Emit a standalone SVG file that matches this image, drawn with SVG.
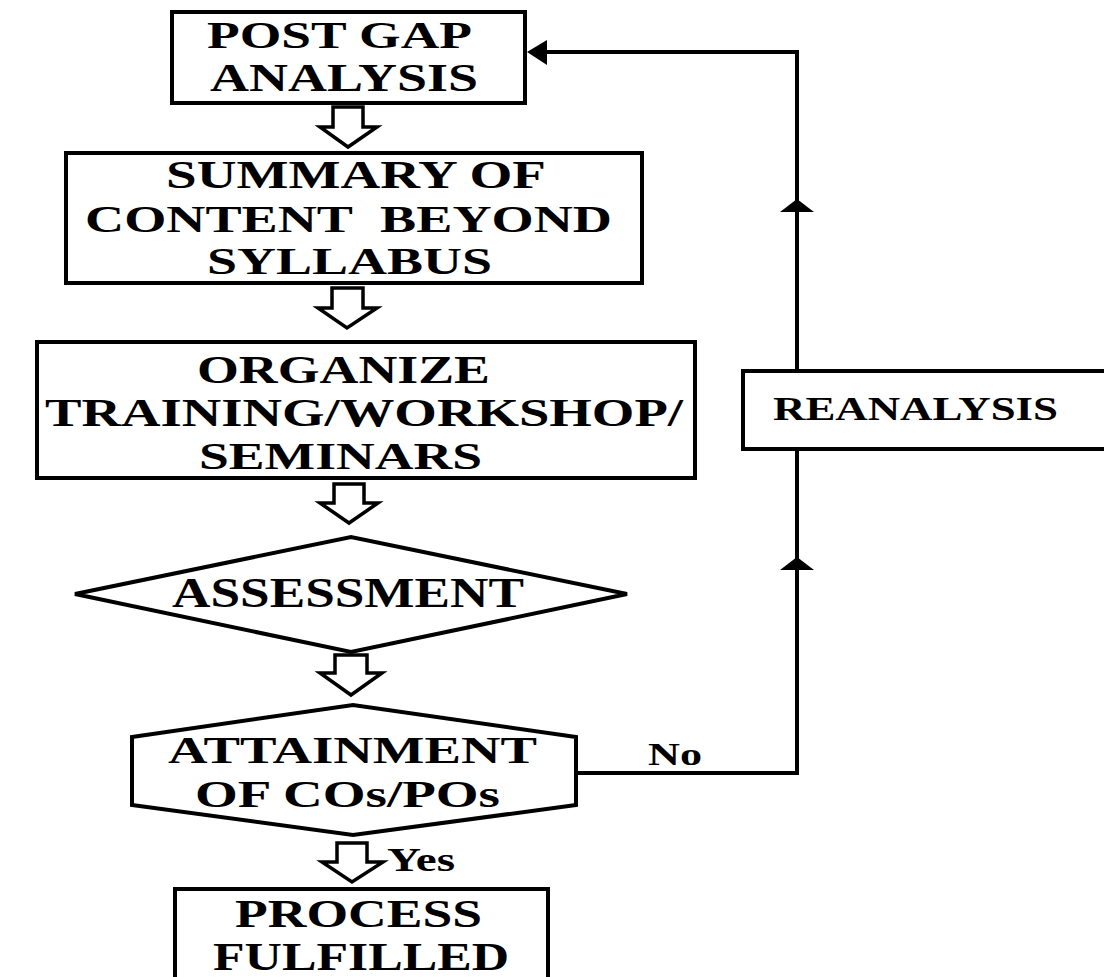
<svg xmlns="http://www.w3.org/2000/svg" width="1104" height="977" viewBox="0 0 1104 977">
<style>
.box{fill:#fff;stroke:#000;stroke-width:4}
.t{font-family:"Liberation Serif","Times New Roman",serif;font-weight:bold;fill:#000}
.harrow{fill:#fff;stroke:#000;stroke-width:3.5;stroke-linejoin:miter}
.conn{fill:none;stroke:#000;stroke-width:4}
.head{fill:#000}
</style>
<rect width="1104" height="977" fill="#fff"/>
<g id="connectors">
<polyline class="conn" points="576,773 797,773 797,52 540,52"/>
<polygon class="head" points="527,52 547,40 547,65"/>
<polygon class="head" points="797,199 780,212 814,212"/>
<polygon class="head" points="797,557 780,570 814,570"/>
<polygon class="harrow" points="333,107 363,107 363,127 377,127 348,147 320,127 333,127"/>
<polygon class="harrow" points="332,288 363,288 363,308 377,308 347,328 318,308 332,308"/>
<polygon class="harrow" points="334,484 364,484 364,503 378,503 349,523 320,503 334,503"/>
<polygon class="harrow" points="335,655 367,655 367,673 382,673 351,695 320,673 335,673"/>
<polygon class="harrow" points="337,843 367,843 367,862 383,862 352,882 322,862 337,862"/>
<text class="t" x="648" y="765" font-size="31" textLength="54" lengthAdjust="spacingAndGlyphs">No</text>
<text class="t" x="387" y="871" font-size="33" textLength="68" lengthAdjust="spacingAndGlyphs">Yes</text>
</g>
<g id="post-gap">
<rect class="box" x="172" y="12" width="353" height="91"/>
<text class="t" x="207" y="48" font-size="38" textLength="265" lengthAdjust="spacingAndGlyphs">POST GAP</text>
<text class="t" x="210" y="91" font-size="39" textLength="268" lengthAdjust="spacingAndGlyphs">ANALYSIS</text>
</g>
<g id="summary">
<rect class="box" x="66" y="153" width="576" height="130"/>
<text class="t" x="166" y="188" font-size="39" textLength="380" lengthAdjust="spacingAndGlyphs">SUMMARY OF</text>
<text class="t" x="85" y="232" font-size="38" textLength="527" lengthAdjust="spacingAndGlyphs">CONTENT&#160; BEYOND</text>
<text class="t" x="207" y="274" font-size="38" textLength="285" lengthAdjust="spacingAndGlyphs">SYLLABUS</text>
</g>
<g id="organize">
<rect class="box" x="37" y="342" width="658" height="136"/>
<text class="t" x="197" y="383" font-size="39" textLength="293" lengthAdjust="spacingAndGlyphs">ORGANIZE</text>
<text class="t" x="45" y="426" font-size="39" textLength="638" lengthAdjust="spacingAndGlyphs">TRAINING/WORKSHOP/</text>
<text class="t" x="199" y="469" font-size="37" textLength="283" lengthAdjust="spacingAndGlyphs">SEMINARS</text>
</g>
<g id="assessment">
<polygon class="box" points="75,594 351,537 627,594 351,652" stroke-width="3.5"/>
<text class="t" x="172" y="607" font-size="42" textLength="352" lengthAdjust="spacingAndGlyphs">ASSESSMENT</text>
</g>
<g id="attainment">
<polygon class="box" points="132,737 353,705 576,737 576,805 353,835 132,805" stroke-width="3.5"/>
<text class="t" x="168" y="763" font-size="38" textLength="369" lengthAdjust="spacingAndGlyphs">ATTAINMENT</text>
<text class="t" x="195" y="807" font-size="38" textLength="305" lengthAdjust="spacingAndGlyphs">OF COs/POs</text>
</g>
<g id="reanalysis">
<rect class="box" x="743" y="371" width="380" height="78"/>
<text class="t" x="773" y="420" font-size="34" textLength="285" lengthAdjust="spacingAndGlyphs">REANALYSIS</text>
</g>
<g id="process">
<rect class="box" x="175" y="889" width="373" height="100"/>
<text class="t" x="235" y="927" font-size="41" textLength="247" lengthAdjust="spacingAndGlyphs">PROCESS</text>
<text class="t" x="213" y="970" font-size="41" textLength="296" lengthAdjust="spacingAndGlyphs">FULFILLED</text>
</g>
</svg>
